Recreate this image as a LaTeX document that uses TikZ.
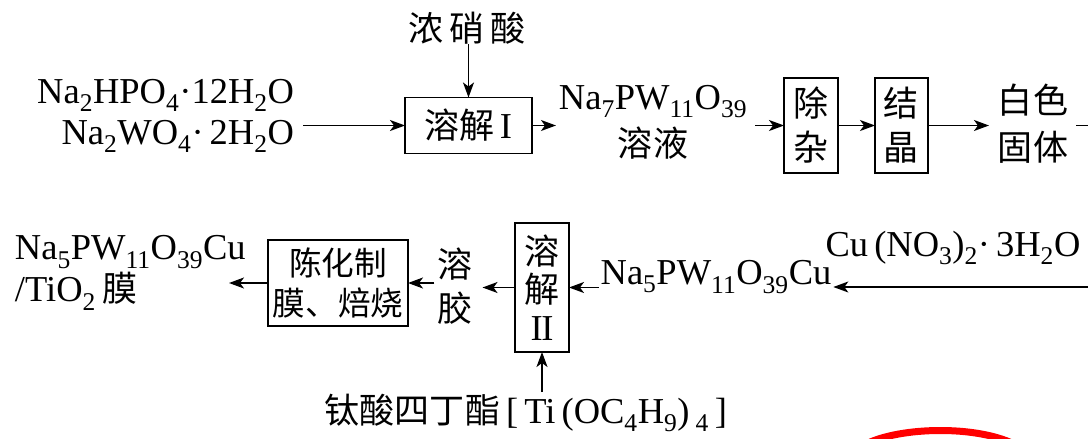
\documentclass[tikz,border=0pt]{standalone}
\usepackage{fontspec}
\setmainfont{Liberation Serif}
\newfontfamily\cjk{Noto Sans CJK SC}[Scale=0.96]
\usetikzlibrary{arrows.meta,calc}
\newcommand{\chsub}[1]{\textsubscript{#1}}
\newcommand{\zh}[1]{{\cjk #1}}
\begin{document}
\begin{tikzpicture}[x=1pt,y=-1pt,
  every node/.style={inner sep=0pt, outer sep=0pt, font=\fontsize{36.5}{41}\selectfont},
  box/.style={draw, line width=1.5pt, inner sep=0pt, align=center},
  flow/.style={-{Stealth[length=15pt,width=11pt,inset=4pt]}, line width=1.5pt},
  plain/.style={line width=1.5pt}]
\clip (0,0) rectangle (1088,439);
\fill[white] (0,0) rectangle (1088,439);
% top row
\node (acid) at (467,28) {\zh{浓\hspace{6pt}硝\hspace{6pt}酸}};
\node[box, minimum width=127pt, minimum height=56pt] (b1) at (468.5,125.5) {\zh{溶解}\hspace{5pt}I};
\node[anchor=east, align=right] (src) at (294,116) {Na\chsub{2}HPO\chsub{4}·12H\chsub{2}O\\Na\chsub{2}WO\chsub{4}·\,2H\chsub{2}O};
\node[align=center, font=\fontsize{36.5}{47}\selectfont] (sol) at (653,122) {Na\chsub{7}PW\chsub{11}O\chsub{39}\\\zh{溶液}};
\node[box, minimum width=54pt, minimum height=95pt, font=\fontsize{36.5}{44}\selectfont] (b2) at (811,125.5) {\zh{除}\\\zh{杂}};
\node[box, minimum width=53pt, minimum height=95pt, font=\fontsize{36.5}{44}\selectfont] (b3) at (901.5,125.5) {\zh{结}\\\zh{晶}};
\node[align=center, font=\fontsize{36.5}{47}\selectfont] (white) at (1033,124) {\zh{白色}\\\zh{固体}};
\coordinate (rout) at (1088,125.5);
\draw[flow] ($(src.east |- b1.west)+(9,0)$) -- (b1.west);
\draw[flow] (acid.south -| b1.north) -- (b1.north);
\draw[flow] (b1.east) -- ($(sol.west |- b1.east)+(-3,0)$);
\draw[flow] ($(sol.east |- b2.west)+(8,0)$) -- (b2.west);
\draw[flow] (b2.east) -- (b3.west);
\draw[flow] (b3.east) -- ($(white.west |- b3.east)+(-9,0)$);
\draw[plain] ($(white.east |- rout)+(8,0)$) -- (rout);
% bottom row
\node (cu) at (953,248) {Cu\,(NO\chsub{3})\chsub{2}·\,3H\chsub{2}O};
\coordinate (cin) at (1088,287);
\node (na5) at (716,277) {Na\chsub{5}PW\chsub{11}O\chsub{39}Cu};
\node[box, minimum width=54pt, minimum height=129pt, font=\fontsize{36.5}{38}\selectfont] (b4) at (542,287.5) {\zh{溶}\\\zh{解}\\I\kern-1.5pt I};
\node[align=center, font=\fontsize{36.5}{44}\selectfont] (gel) at (455,286) {\zh{溶}\\\zh{胶}};
\node[box, minimum width=140pt, minimum height=86pt, font=\fontsize{34}{40}\selectfont] (b5) at (338,283) {\zh{陈化制}\\\zh{膜、焙烧}};
\node[anchor=west, align=left, font=\fontsize{36.5}{42}\selectfont] (prod) at (15,273) {Na\chsub{5}PW\chsub{11}O\chsub{39}Cu\\/TiO\chsub{2}\,\zh{膜}};
\coordinate (pend) at (229,283);
\node (ti) at (526,413) {\zh{钛酸四丁酯}\,[\,Ti\,(OC\chsub{4}H\chsub{9})\,\chsub{4}\,]};
\draw[flow] (cin) -- ($(na5.east |- cin)+(2,0)$);
\draw[flow] ($(na5.west |- b4.east)+(-2,0)$) -- (b4.east);
\draw[flow] (b4.west) -- ($(gel.east |- b4.west)+(10,0)$);
\draw[flow] ($(gel.west |- b5.east)+(-3,0)$) -- (b5.east);
\draw[flow] (b5.west) -- (pend);
\draw[flow] ($(ti.north -| b4.south)+(0,-2)$) -- (b4.south);
% red stroke
\draw[red, line width=7pt] (866,444) .. controls (900,427) and (975,425) .. (1014,444);
\end{tikzpicture}
\end{document}
